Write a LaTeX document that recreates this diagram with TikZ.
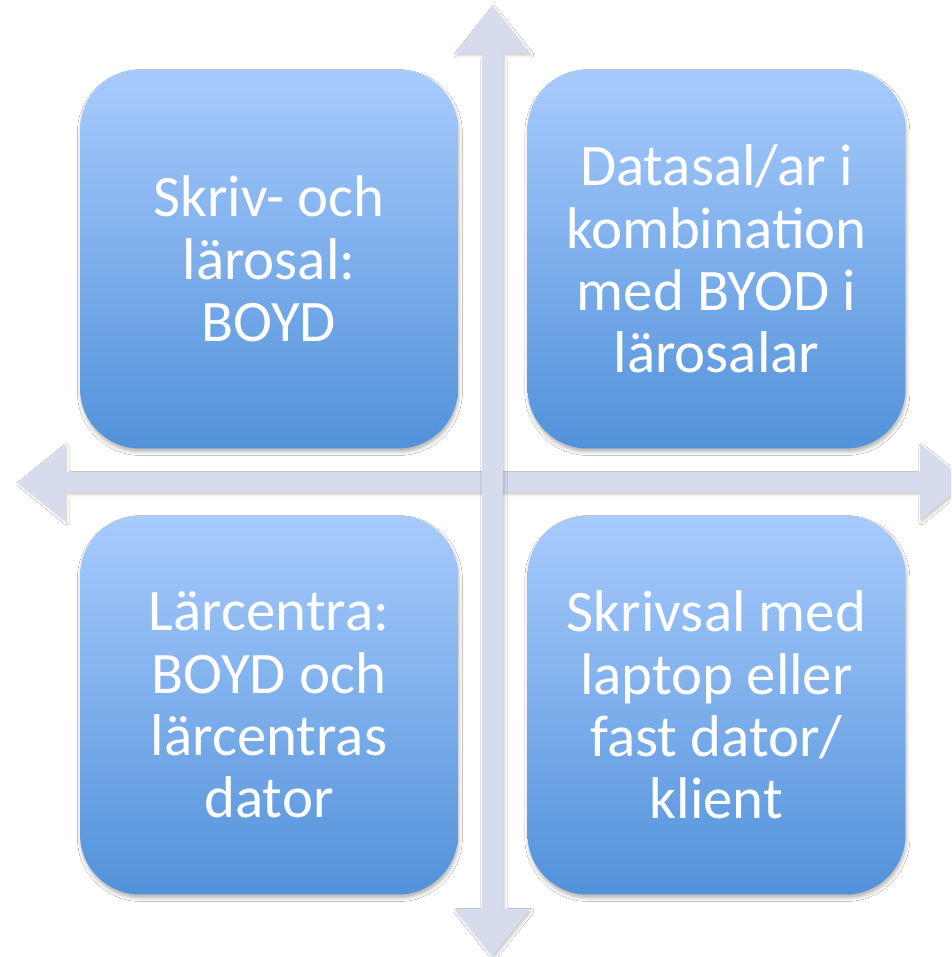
\documentclass[tikz,border=0pt]{standalone}
\usepackage{fontspec}
\setmainfont{Carlito}
\usetikzlibrary{shadows.blur}
\definecolor{axisgrey}{RGB}{214,220,236}
\definecolor{boxtop}{RGB}{168,203,253}
\definecolor{boxbottom}{RGB}{82,146,218}

\begin{document}
\begin{tikzpicture}[x=0.02cm,y=-0.02cm,
   axis arrow/.style={fill=axisgrey,
      blur shadow={shadow xshift=0.8pt,shadow yshift=-1.2pt,shadow blur radius=1.5pt,shadow opacity=22}},
   quad/.style={rounded corners=1.2cm,minimum width=7.56cm,minimum height=7.58cm,
      top color=boxtop,bottom color=boxbottom,text=white,align=center,
      font=\fontsize{33.5}{35.5}\selectfont,
      blur shadow={shadow xshift=0.5pt,shadow yshift=-2pt,shadow blur radius=2pt,shadow opacity=30}}]
\path[use as bounding box,fill=white] (0,0) rectangle (951,957);
\clip (0,0) rectangle (951,957);
% axes
\path[axis arrow] (18,482) -- (65,444) -- (65,472) -- (920,472) -- (920,444) -- (967,482)
   -- (920,520) -- (920,492) -- (65,492) -- (65,520) -- cycle;
\path[axis arrow] (492.5,6) -- (530,53) -- (503,53) -- (503,909) -- (530,909) -- (492.5,956)
   -- (455,909) -- (482,909) -- (482,53) -- (455,53) -- cycle;
% quadrants
\node[quad] (tl) at (269,259) {Skriv- och\\lärosal:\\BOYD};
\node[quad] (tr) at (716.5,259) {Datasal/ar i\\kombination\\med BYOD i\\lärosalar};
\node[quad] (bl) at (269,705) {Lärcentra:\\BOYD och\\lärcentras\\dator};
\node[quad] (br) at (716.5,705) {Skrivsal med\\laptop eller\\fast dator/\\klient};
\end{tikzpicture}
\end{document}
